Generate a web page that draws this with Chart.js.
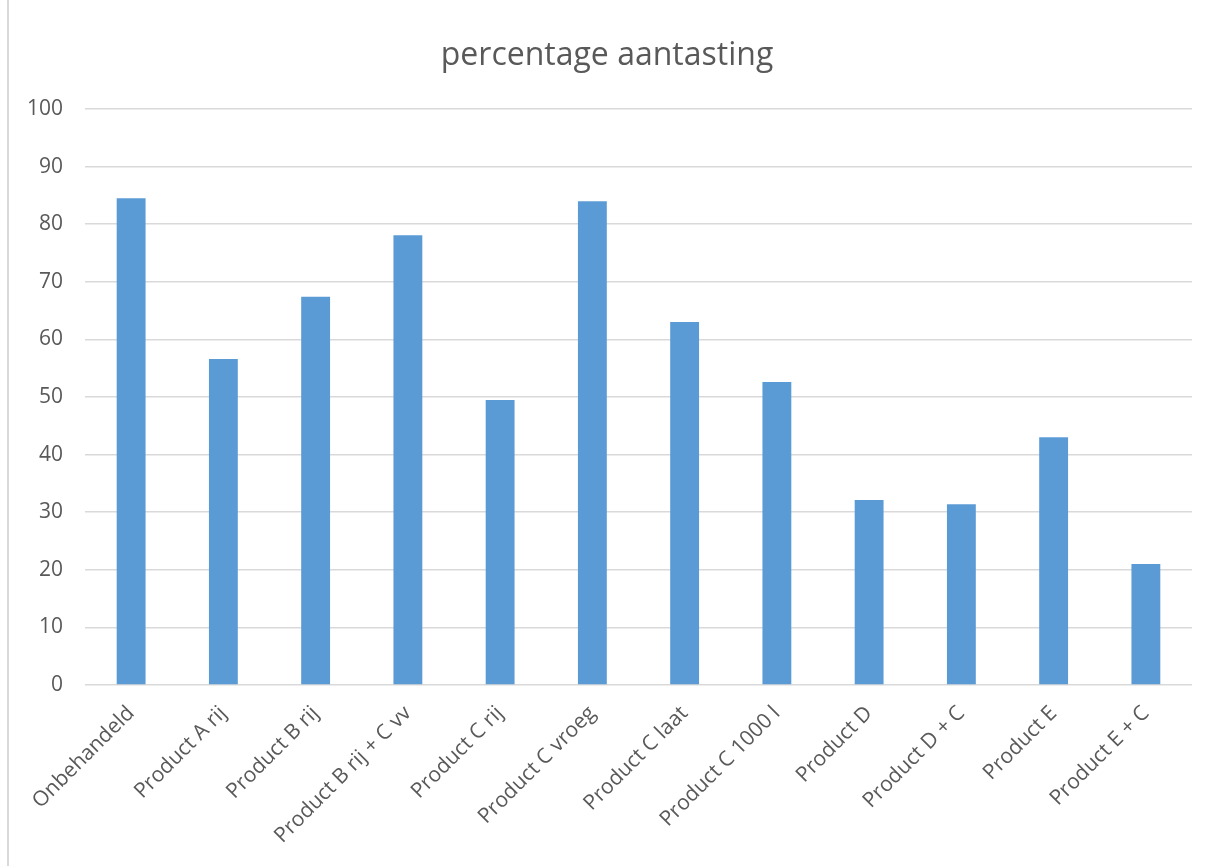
<!DOCTYPE html>
<html>
<head>
<meta charset="utf-8">
<script src="https://cdn.jsdelivr.net/npm/chart.js@4/dist/chart.umd.min.js"></script>
<style>
  body { margin: 0; background: #fff; }
  #wrap { position: relative; width: 1216px; height: 866px; }
  #frame { position: absolute; left: 7px; top: 0; width: 2px; height: 866px; background: #d9d9d9; }
</style>
</head>
<body>
<div id="wrap">
  <canvas id="chart" width="1216" height="866"></canvas>
  <div id="frame"></div>
</div>
<script>
// categories and values
var categories = [
  'Onbehandeld', 'Product A rij', 'Product B rij', 'Product B rij + C vv',
  'Product C rij', 'Product C vroeg', 'Product C laat', 'Product C 1000 l',
  'Product D', 'Product D + C', 'Product E', 'Product E + C'
];
var aantasting = [84.5, 56.6, 67.4, 78.1, 49.5, 84.0, 63.0, 52.6, 32.1, 31.4, 43.0, 21.0];
var yTicks = [0, 10, 20, 30, 40, 50, 60, 70, 80, 90, 100];

var textColor = '#595959';
var gridColor = '#d9d9d9';
var fontFamily = '"Open Sans", sans-serif';

var chart = new Chart(document.getElementById('chart'), {
  type: 'bar',
  data: {
    labels: categories,
    datasets: [{
      label: 'percentage aantasting',
      data: aantasting,
      backgroundColor: '#5b9bd5',
      categoryPercentage: 1.0,
      barPercentage: 0.313
    }]
  },
  options: {
    responsive: false,
    animation: false,
    // y labels get clipped to the axis box, so keep the left padding small
    layout: { padding: { left: 22, right: 24, top: 0, bottom: 0 } },
    plugins: {
      legend: { display: false },
      tooltip: { enabled: false },
      title: {
        display: true,
        text: 'percentage aantasting',
        color: textColor,
        font: { family: fontFamily, size: 32, weight: 'normal', lineHeight: 1.2 },
        padding: { top: 37, bottom: 33.6 }
      }
    },
    scales: {
      x: {
        grid: { display: false },
        border: { display: false },
        ticks: {
          color: textColor,
          font: { family: fontFamily, size: 21 },
          maxRotation: 45,
          minRotation: 45,
          padding: 8,
          autoSkip: false
        },
        afterFit: function (scale) { scale.height = 181; }
      },
      y: {
        min: 0,
        max: 100,
        afterBuildTicks: function (scale) {
          scale.ticks = yTicks.map(function (v) { return { value: v }; });
        },
        grid: { color: gridColor, lineWidth: 1.5, drawTicks: false },
        border: { display: false },
        ticks: {
          color: textColor,
          font: { family: fontFamily, size: 21 },
          padding: 22
        },
        afterFit: function (scale) { scale.width = 63; }
      }
    }
  }
});
</script>
</body>
</html>
